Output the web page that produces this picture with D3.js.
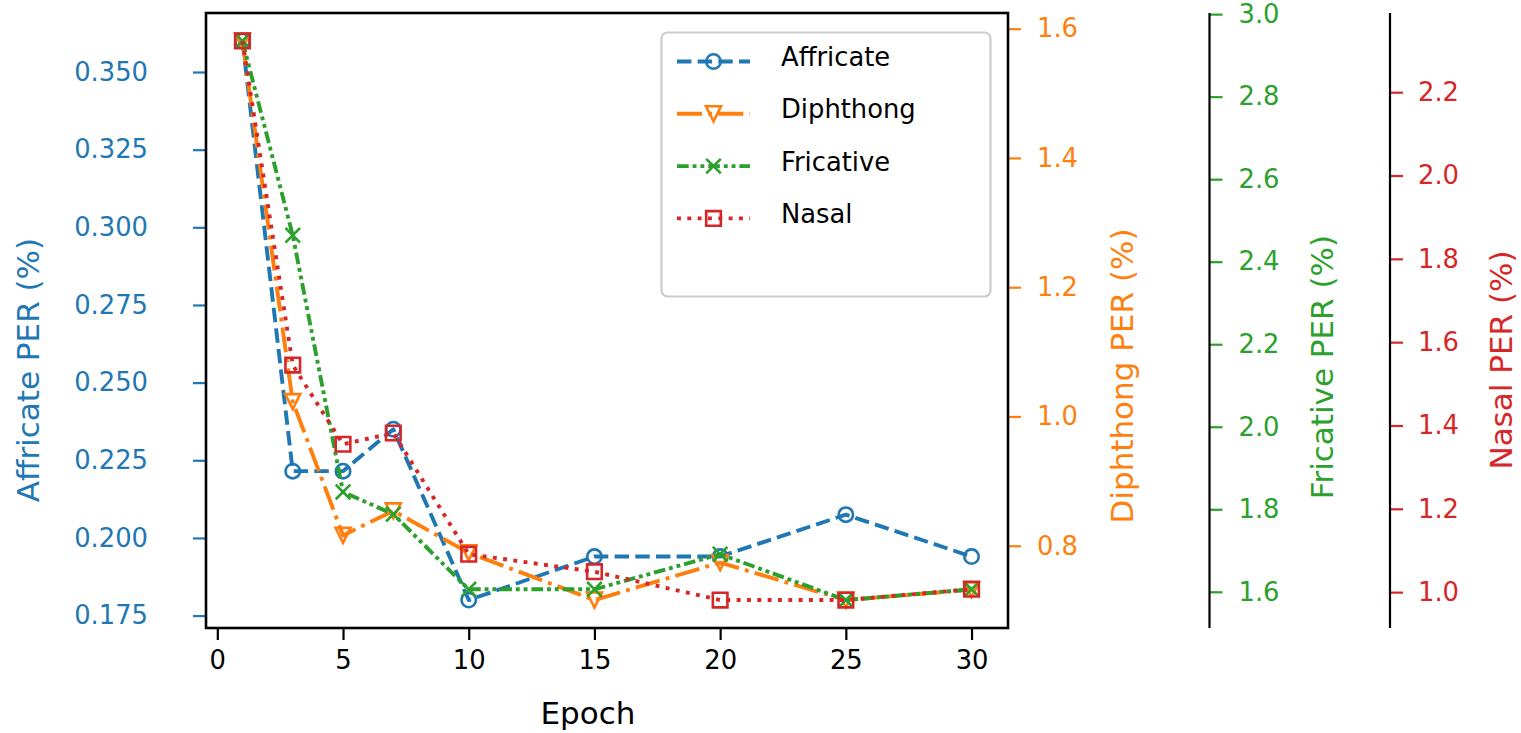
<!DOCTYPE html>
<html>
<head>
<meta charset="utf-8">
<script src="https://cdn.jsdelivr.net/npm/d3@7"></script>
<style>
  body { margin: 0; background: #fff; }
  svg { display: block; font-family: "DejaVu Sans", sans-serif; }
</style>
</head>
<body>
<svg id="chart" width="1521" height="733"></svg>
<script>
// data
var epochs = [1, 3, 5, 7, 10, 15, 20, 25, 30];
var affricate = [0.360, 0.2215, 0.2215, 0.235, 0.180, 0.194, 0.194, 0.2075, 0.194];
var diphthong = [1.581, 1.023, 0.816, 0.854, 0.789, 0.716, 0.774, 0.716, 0.732];
var fricative = [2.935, 2.464, 1.842, 1.788, 1.606, 1.606, 1.691, 1.580, 1.606];
var nasal = [2.323, 1.545, 1.355, 1.382, 1.091, 1.049, 0.981, 0.981, 1.007];

var seriesNames = ["Affricate", "Diphthong", "Fricative", "Nasal"];
var epochTicks = [0, 5, 10, 15, 20, 25, 30];
var affricateTicks = [0.175, 0.200, 0.225, 0.250, 0.275, 0.300, 0.325, 0.350];
var diphthongTicks = [0.8, 1.0, 1.2, 1.4, 1.6];
var fricativeTicks = [1.6, 1.8, 2.0, 2.2, 2.4, 2.6, 2.8, 3.0];
var nasalTicks = [1.0, 1.2, 1.4, 1.6, 1.8, 2.0, 2.2];

var svg = d3.select("#chart");

var plot = { left: 206, right: 1008, top: 13, bottom: 628 },
    spine2 = 1209.5,
    spine3 = 1390,
    tickLen = 13,
    lw = 3.9,
    tickFont = 25.8,
    labelFont = 31;

// matplotlib style 5% margins
function padded(arr) {
    var e = d3.extent(arr), d = (e[1] - e[0]) * 0.05;
    return [e[0] - d, e[1] + d];
}

var x = d3.scaleLinear().domain(padded(epochs)).range([plot.left, plot.right]);

function yScale(vals) {
    return d3.scaleLinear().domain(padded(vals)).range([plot.bottom, plot.top]);
}

// custom marker shapes, size = half width
var markerTypes = {
    circle: { draw: function(c, s) { c.moveTo(s, 0); c.arc(0, 0, s, 0, 2 * Math.PI); } },
    triDown: { draw: function(c, s) { c.moveTo(0, s); c.lineTo(s, -s); c.lineTo(-s, -s); c.closePath(); } },
    cross: { draw: function(c, s) { c.moveTo(-s, -s); c.lineTo(s, s); c.moveTo(-s, s); c.lineTo(s, -s); } },
    square: { draw: function(c, s) { c.rect(-s, -s, 2 * s, 2 * s); } }
};

var series = [
    { name: seriesNames[0], values: affricate, color: "#1f77b4", dash: [3.7, 1.6], marker: "circle", msize: 7.2, ticks: affricateTicks, fmt: ".3f" },
    { name: seriesNames[1], values: diphthong, color: "#ff7f0e", dash: [6.4, 1.6, 1, 1.6], marker: "triDown", msize: 7.5, ticks: diphthongTicks, fmt: ".1f" },
    { name: seriesNames[2], values: fricative, color: "#2ca02c", dash: [3, 1, 1, 1, 1, 1], marker: "cross", msize: 7.3, ticks: fricativeTicks, fmt: ".1f" },
    { name: seriesNames[3], values: nasal, color: "#d62728", dash: [1, 1.65], marker: "square", msize: 7.3, ticks: nasalTicks, fmt: ".1f" }
];
series.forEach(function(s) {
    s.y = yScale(s.values);
    s.dasharray = s.dash.map(function(v) { return (v * lw).toFixed(2); }).join(",");
});

function styleAxis(g, color, fontSize) {
    g.attr("font-family", null).attr("font-size", fontSize);
    g.select(".domain").remove();
    g.selectAll(".tick line").attr("stroke", color).attr("stroke-width", 2.2);
    g.selectAll(".tick text").attr("fill", color);
}

// left axis (affricate)
var gLeft = svg.append("g")
    .attr("transform", "translate(" + plot.left + ",0)")
    .call(d3.axisLeft(series[0].y).tickValues(series[0].ticks).tickFormat(d3.format(".3f"))
        .tickSize(tickLen).tickSizeOuter(0).tickPadding(45));
styleAxis(gLeft, series[0].color, tickFont);

// right axes
[[series[1], plot.right, 16], [series[2], spine2, 16], [series[3], spine3, 15]].forEach(function(a) {
    var s = a[0];
    var g = svg.append("g")
        .attr("transform", "translate(" + a[1] + ",0)")
        .call(d3.axisRight(s.y).tickValues(s.ticks).tickFormat(d3.format(s.fmt))
            .tickSize(tickLen).tickSizeOuter(0).tickPadding(a[2]));
    styleAxis(g, s.color, tickFont);
});

// bottom axis
var gBottom = svg.append("g")
    .attr("transform", "translate(0," + plot.bottom + ")")
    .call(d3.axisBottom(x).tickValues(epochTicks).tickFormat(d3.format("d"))
        .tickSize(12).tickSizeOuter(0).tickPadding(11));
styleAxis(gBottom, "#000", tickFont);

// extra spines
svg.selectAll("line.spine").data([spine2, spine3]).join("line")
    .attr("class", "spine")
    .attr("x1", function(d) { return d; }).attr("x2", function(d) { return d; })
    .attr("y1", plot.top).attr("y2", plot.bottom)
    .attr("stroke", "#000").attr("stroke-width", 2.2);

// lines and markers
series.forEach(function(s) {
    var line = d3.line()
        .x(function(d, i) { return x(epochs[i]); })
        .y(function(d) { return s.y(d); });
    svg.append("path")
        .datum(s.values)
        .attr("d", line)
        .attr("fill", "none")
        .attr("stroke", s.color)
        .attr("stroke-width", lw)
        .attr("stroke-dasharray", s.dasharray)
        .attr("stroke-linejoin", "round");
    var sym = d3.symbol().type(markerTypes[s.marker]).size(s.msize);
    svg.append("g").selectAll("path")
        .data(s.values)
        .join("path")
        .attr("transform", function(d, i) { return "translate(" + x(epochs[i]) + "," + s.y(d) + ")"; })
        .attr("d", sym)
        .attr("fill", "none")
        .attr("stroke", s.color)
        .attr("stroke-width", 2.6);
});

// frame
svg.append("rect")
    .attr("x", plot.left).attr("y", plot.top)
    .attr("width", plot.right - plot.left).attr("height", plot.bottom - plot.top)
    .attr("fill", "none").attr("stroke", "#000").attr("stroke-width", 2.6);

// axis labels
svg.append("text")
    .attr("x", 588).attr("y", 724)
    .attr("text-anchor", "middle")
    .attr("font-size", labelFont)
    .text("Epoch");

var labelPos = [[28, 370], [1122, 376], [1322, 367], [1501, 360]];
series.forEach(function(s, i) {
    svg.append("text")
        .attr("transform", "translate(" + labelPos[i][0] + "," + labelPos[i][1] + ") rotate(-90)")
        .attr("text-anchor", "middle")
        .attr("dy", "0.35em")
        .attr("font-size", labelFont)
        .attr("fill", s.color)
        .text(s.name + " PER (%)");
});

// legend
var legend = svg.append("g");
legend.append("rect")
    .attr("x", 661.5).attr("y", 32.5)
    .attr("width", 329).attr("height", 264)
    .attr("rx", 6)
    .attr("fill", "#fff").attr("fill-opacity", 0.8)
    .attr("stroke", "#cccccc").attr("stroke-width", 2.2);

var rows = legend.selectAll("g.row").data(series).join("g")
    .attr("class", "row")
    .attr("transform", function(d, i) { return "translate(0," + (66 + i * 52.3) + ")"; });
rows.append("line")
    .attr("x1", 677).attr("x2", 750).attr("y1", -4.5).attr("y2", -4.5)
    .attr("stroke", function(d) { return d.color; })
    .attr("stroke-width", lw)
    .attr("stroke-dasharray", function(d) { return d.dasharray; });
rows.append("path")
    .attr("transform", "translate(713.5,-4.5)")
    .attr("d", function(d) { return d3.symbol().type(markerTypes[d.marker]).size(d.msize)(); })
    .attr("fill", "none")
    .attr("stroke", function(d) { return d.color; })
    .attr("stroke-width", 2.6);
rows.append("text")
    .attr("x", 781).attr("y", 0)
    .attr("font-size", tickFont)
    .attr("fill", "#000")
    .text(function(d) { return d.name; });
</script>
</body>
</html>
